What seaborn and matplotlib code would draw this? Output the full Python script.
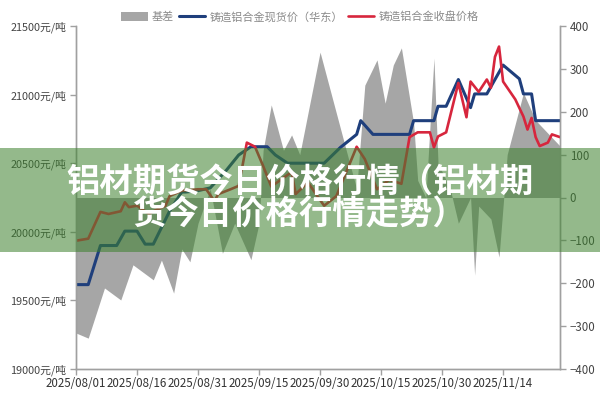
# 铸造铝合金 现货价 / 收盘价 / 基差
import numpy as np
import pandas as pd
import matplotlib
matplotlib.use("Agg")
import matplotlib.pyplot as plt
import matplotlib.dates as mdates
from matplotlib.patches import Patch, Rectangle
from matplotlib.lines import Line2D
import seaborn as sns

# 数据
spot_dates = ["2025-08-01", "2025-08-04", "2025-08-07", "2025-08-11", "2025-08-13", "2025-08-16",
              "2025-08-18", "2025-08-20", "2025-08-24", "2025-08-27", "2025-08-28", "2025-08-31",
              "2025-09-03", "2025-09-07", "2025-09-10", "2025-09-13", "2025-09-17", "2025-09-19",
              "2025-09-22", "2025-10-01", "2025-10-05", "2025-10-09", "2025-10-10", "2025-10-13",
              "2025-10-22", "2025-10-23", "2025-10-28", "2025-10-29", "2025-10-31", "2025-11-03",
              "2025-11-06", "2025-11-07", "2025-11-10", "2025-11-14", "2025-11-18", "2025-11-19",
              "2025-11-21", "2025-11-22", "2025-11-28"]
spot_price = [19615, 19615, 19900, 19900, 20005, 20005,
              19910, 19910, 20150, 20290, 20290, 20300,
              20320, 20450, 20560, 20620, 20620, 20560,
              20500, 20500, 20615, 20710, 20810, 20710,
              20710, 20810, 20810, 20915, 20915, 21110,
              20905, 21005, 21005, 21215, 21115, 21005,
              21005, 20810, 20810]

close_dates = ["2025-08-01", "2025-08-04", "2025-08-07", "2025-08-09", "2025-08-12", "2025-08-13",
               "2025-08-14", "2025-08-16", "2025-08-19", "2025-08-20", "2025-08-23", "2025-08-24",
               "2025-08-27", "2025-08-31", "2025-09-02", "2025-09-04", "2025-09-05", "2025-09-08",
               "2025-09-10", "2025-09-12", "2025-09-14", "2025-09-16", "2025-09-18", "2025-09-23",
               "2025-09-24", "2025-09-27", "2025-10-01", "2025-10-04", "2025-10-09", "2025-10-11",
               "2025-10-14", "2025-10-17", "2025-10-20", "2025-10-22", "2025-10-24", "2025-10-27",
               "2025-10-28", "2025-10-29", "2025-10-31", "2025-11-03", "2025-11-05", "2025-11-06",
               "2025-11-08", "2025-11-10", "2025-11-11", "2025-11-12", "2025-11-13", "2025-11-14",
               "2025-11-17", "2025-11-19", "2025-11-20", "2025-11-21", "2025-11-22", "2025-11-23",
               "2025-11-25", "2025-11-26", "2025-11-28"]
close_price = [19935, 19950, 20145, 20130, 20150, 20215,
               20180, 20190, 20130, 20150, 20190, 20260,
               20300, 20310, 20310, 20225, 20275, 20310,
               20335, 20650, 20620, 20480, 20330, 20435,
               20275, 20360, 20190, 20260, 20620, 20530,
               20310, 20380, 20350, 20690, 20725, 20725,
               20615, 20695, 20725, 21085, 20835, 21095,
               21020, 21110, 21050, 21275, 21350, 21095,
               20965, 20840, 20745, 20830, 20690, 20625,
               20650, 20710, 20690]

basis_dates = ["2025-08-01", "2025-08-04", "2025-08-08", "2025-08-12", "2025-08-15", "2025-08-20",
               "2025-08-22", "2025-08-25", "2025-08-27", "2025-08-29", "2025-08-31", "2025-09-03",
               "2025-09-06", "2025-09-09", "2025-09-13", "2025-09-15", "2025-09-16", "2025-09-18",
               "2025-09-21", "2025-09-23", "2025-09-25", "2025-09-30", "2025-10-07", "2025-10-09",
               "2025-10-11", "2025-10-14", "2025-10-16", "2025-10-18", "2025-10-20", "2025-10-23",
               "2025-10-24", "2025-10-26", "2025-10-28", "2025-10-29", "2025-11-01", "2025-11-03",
               "2025-11-06", "2025-11-07", "2025-11-08", "2025-11-11", "2025-11-13", "2025-11-15",
               "2025-11-19", "2025-11-22", "2025-11-26", "2025-11-28"]
basis_vals = [-316, -328, -211, -239, -157, -192,
              -146, -223, -120, -150, -60, 20,
              -130, -60, -145, -60, 110, 216,
              110, 146, 100, 339, 90, 20,
              262, 321, 220, 309, 349, 174,
              40, 0, 325, 80, 20, -60,
              0, -181, -20, -50, -139, 100,
              244, 180, 140, 120]

x_ticks = ["2025-08-01", "2025-08-16", "2025-08-31", "2025-09-15",
           "2025-09-30", "2025-10-15", "2025-10-30", "2025-11-14"]
price_ticks = [19000, 19500, 20000, 20500, 21000, 21500]
basis_ticks = [-400, -300, -200, -100, 0, 100, 200, 300, 400]

labels = ["基差", "铸造铝合金现货价（华东）", "铸造铝合金收盘价格"]
title_lines = ["铝材期货今日价格行情（铝材期", "货今日价格行情走势）"]

# 样式
sns.set_theme(style="white")
plt.rcParams['font.family'] = ['Noto Sans CJK SC', 'DejaVu Sans']

c_gray = "#a6a6a6"
c_blue = "#1f3f7c"
c_red = "#d7263d"
c_axis = "#a0a0a0"

spot = pd.DataFrame({"date": pd.to_datetime(spot_dates), "price": spot_price})
close = pd.DataFrame({"date": pd.to_datetime(close_dates), "price": close_price})
basis = pd.DataFrame({"date": pd.to_datetime(basis_dates), "val": basis_vals})

fig = plt.figure(figsize=(6, 4), dpi=100)
ax = fig.add_axes([0.1267, 0.0775, 0.8067, 0.8575])
ax2 = ax.twinx()

# 基差 (右轴)
ax2.fill_between(basis["date"], 0, basis["val"], color=c_gray, lw=0)

# 价格线 (左轴)
sns.lineplot(data=spot, x="date", y="price", ax=ax, color=c_blue, lw=2.2)
sns.lineplot(data=close, x="date", y="price", ax=ax, color=c_red, lw=1.9)

ax.set_zorder(ax2.get_zorder() + 1)
ax.patch.set_visible(False)

ax.set_xlim(pd.Timestamp("2025-08-01"), pd.Timestamp("2025-11-28"))
ax.set_ylim(19000, 21500)
ax2.set_ylim(-400, 400)

ax.set_xticks(pd.to_datetime(x_ticks))
ax.xaxis.set_major_formatter(mdates.DateFormatter("%Y/%m/%d"))
ax.set_yticks(price_ticks)
ax.set_yticklabels([f"{v}元/吨" for v in price_ticks])
ax2.set_yticks(basis_ticks)
ax.set_xlabel("")
ax.set_ylabel("")

for a in (ax, ax2):
    a.spines["top"].set_visible(False)
    for s in ("left", "right", "bottom"):
        a.spines[s].set_color(c_axis)
        a.spines[s].set_linewidth(1.0)
    a.grid(False)

ax.tick_params(axis="x", direction="out", length=4, width=1, color=c_axis,
               labelsize=8.3, labelcolor="#333333", pad=2, bottom=True)
ax.tick_params(axis="y", direction="out", length=4, width=1, color=c_axis,
               labelsize=7.8, labelcolor="#444444", pad=3, left=True)
ax2.tick_params(axis="y", direction="out", length=4, width=1, color=c_axis,
                labelsize=8.3, labelcolor="#444444", pad=3, right=True)

# 图例
handles = [Patch(facecolor=c_gray, edgecolor="none"),
           Line2D([], [], color=c_blue, lw=2.2),
           Line2D([], [], color=c_red, lw=1.9)]
fig.legend(handles, labels, loc="center", bbox_to_anchor=(0.5, 0.958), ncol=3,
           frameon=False, fontsize=8, labelcolor="#8a8a8a", handlelength=2.4,
           handleheight=0.8, columnspacing=0.4, handletextpad=0.4)

# 绿色横幅 + 标题
fig.add_artist(Rectangle((0, 0.37), 1, 0.26, transform=fig.transFigure,
                         facecolor=(60 / 255, 129 / 255, 45 / 255), alpha=0.55,
                         lw=0, zorder=10))
fig.text(0.5, 0.5425, title_lines[0], ha="center", va="center", fontsize=24,
         fontweight="black", color="white", zorder=11)
fig.text(0.5, 0.4625, title_lines[1], ha="center", va="center", fontsize=24,
         fontweight="black", color="white", zorder=11)

fig.savefig("out.png", dpi=100)
